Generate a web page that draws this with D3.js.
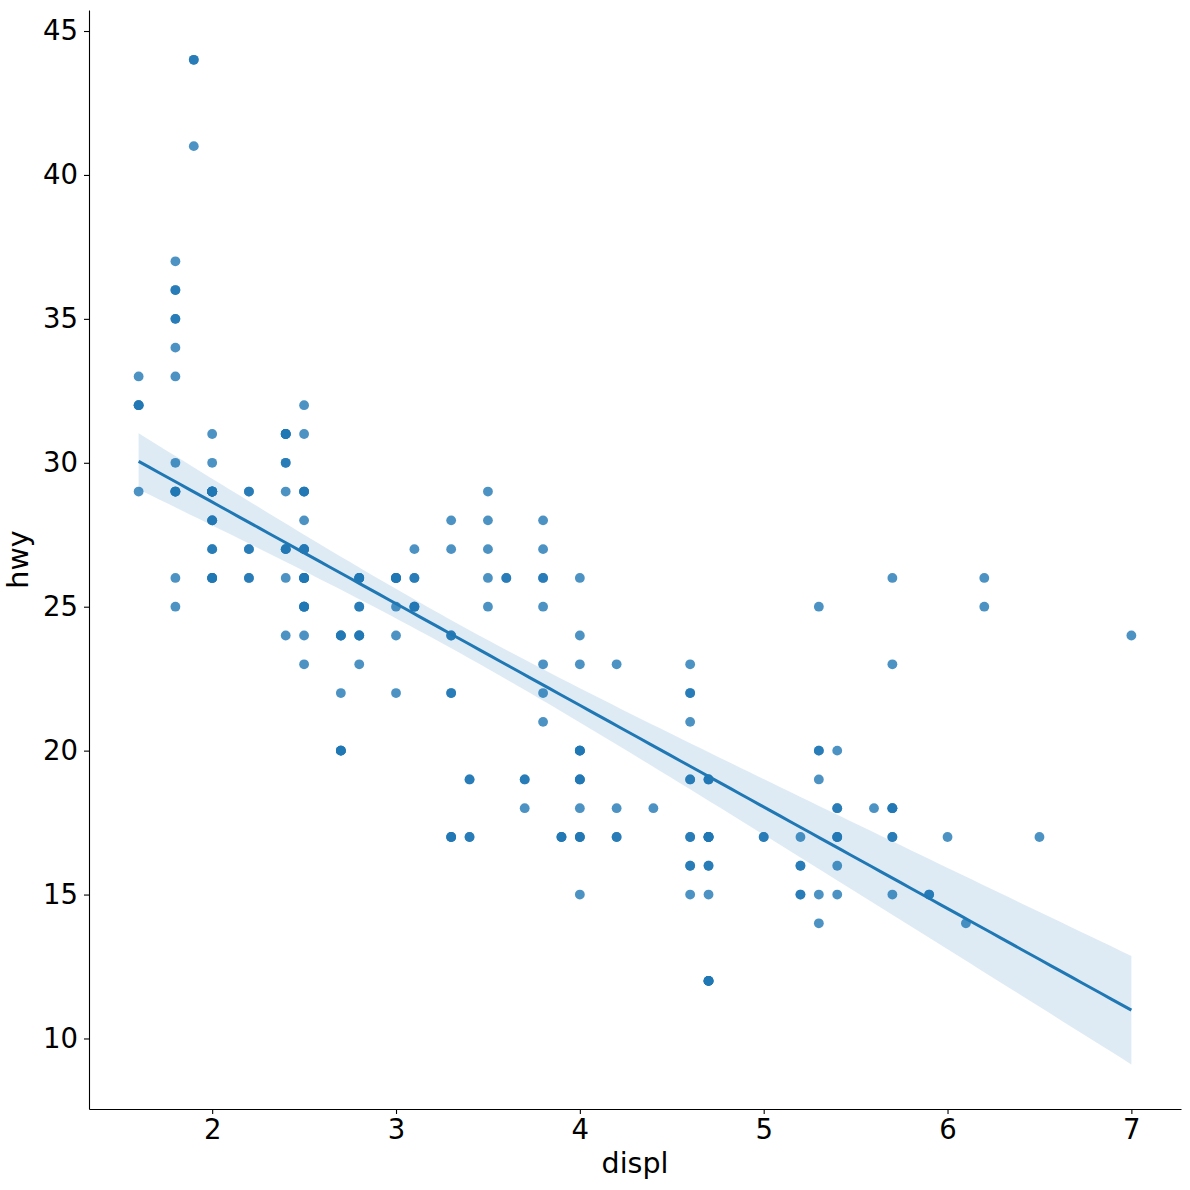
<!DOCTYPE html>
<html>
<head>
<meta charset="utf-8">
<script src="https://cdn.jsdelivr.net/npm/d3@7"></script>
<style>
  body { margin: 0; background: #fff; }
  text { font-family: "DejaVu Sans", sans-serif; fill: #000; }
</style>
</head>
<body>
<div id="output"></div>
<script>
// engine displacement (litres), one entry per car
const displ = [
  1.8, 1.8, 2.0, 2.0, 2.8, 2.8, 3.1,                 // audi a4
  1.8, 1.8, 2.0, 2.0, 2.8, 2.8, 3.1, 3.1,            // a4 quattro
  2.8, 3.1, 4.2,                                     // a6 quattro
  5.3, 5.3, 5.3, 5.7, 6.0,                           // c1500 suburban
  5.7, 5.7, 6.2, 6.2, 7.0,                           // corvette
  5.3, 5.3, 5.7, 6.5,                                // k1500 tahoe
  2.4, 2.4, 3.1, 3.5, 3.6,                           // malibu
  2.4, 3.0, 3.3, 3.3, 3.3, 3.3, 3.3, 3.8, 3.8, 3.8, 4.0, // caravan
  3.7, 3.7, 3.9, 3.9, 4.7, 4.7, 4.7, 5.2, 5.2,       // dakota
  3.9, 4.7, 4.7, 4.7, 5.2, 5.7, 5.9,                 // durango
  4.7, 4.7, 4.7, 4.7, 4.7, 4.7, 5.2, 5.2, 5.7, 5.9,  // ram 1500
  4.6, 5.4, 5.4,                                     // expedition
  4.0, 4.0, 4.0, 4.0, 4.6, 5.0,                      // explorer
  4.2, 4.2, 4.6, 4.6, 4.6, 5.4, 5.4,                 // f150
  3.8, 3.8, 4.0, 4.0, 4.6, 4.6, 4.6, 4.6, 5.4,       // mustang
  1.6, 1.6, 1.6, 1.6, 1.6, 1.8, 1.8, 1.8, 2.0,       // civic
  2.4, 2.4, 2.4, 2.4, 2.5, 2.5, 3.3,                 // sonata
  2.0, 2.0, 2.0, 2.0, 2.7, 2.7, 2.7,                 // tiburon
  3.0, 3.7, 4.0, 4.7, 4.7, 4.7, 5.7, 6.1,            // grand cherokee
  4.0, 4.2, 4.4, 4.6,                                // range rover
  5.4, 5.4, 5.4,                                     // navigator
  4.0, 4.0, 4.6, 5.0,                                // mountaineer
  2.4, 2.4, 2.5, 2.5, 3.5, 3.5,                      // altima
  3.0, 3.0, 3.5,                                     // maxima
  3.3, 3.3, 4.0, 5.6,                                // pathfinder
  3.1, 3.8, 3.8, 3.8, 5.3,                           // grand prix
  2.5, 2.5, 2.5, 2.5, 2.5, 2.5,                      // forester
  2.2, 2.2, 2.5, 2.5, 2.5, 2.5, 2.5, 2.5,            // impreza
  2.7, 2.7, 3.4, 3.4, 4.0, 4.7,                      // 4runner
  2.2, 2.2, 2.4, 2.4, 3.0, 3.0, 3.5,                 // camry
  2.2, 2.2, 2.4, 2.4, 3.0, 3.0, 3.3,                 // camry solara
  1.8, 1.8, 1.8, 1.8, 1.8,                           // corolla
  4.7, 5.7,                                          // land cruiser
  2.7, 2.7, 2.7, 3.4, 3.4, 4.0, 4.0,                 // tacoma
  2.0, 2.0, 2.0, 2.0, 2.8,                           // gti
  1.9, 2.0, 2.0, 2.0, 2.0, 2.5, 2.5, 2.8, 2.8,       // jetta
  1.9, 1.9, 2.0, 2.0, 2.5, 2.5,                      // new beetle
  1.8, 1.8, 2.0, 2.0, 2.8, 2.8, 3.6                  // passat
];

// highway miles per gallon, same order
const hwy = [
  29, 29, 31, 30, 26, 26, 27,
  26, 25, 28, 27, 25, 25, 25, 25,
  24, 25, 23,
  20, 15, 20, 17, 17,
  26, 23, 26, 25, 24,
  19, 14, 15, 17,
  27, 30, 26, 29, 26,
  24, 24, 22, 22, 24, 24, 17, 22, 21, 23, 23,
  19, 18, 17, 17, 19, 19, 12, 17, 15,
  17, 17, 12, 17, 16, 18, 15,
  16, 12, 17, 17, 16, 12, 15, 16, 17, 15,
  17, 17, 18,
  17, 19, 17, 19, 19, 17,
  17, 17, 16, 16, 17, 15, 17,
  26, 25, 26, 24, 21, 22, 23, 22, 20,
  33, 32, 32, 29, 32, 34, 36, 36, 29,
  26, 27, 30, 31, 26, 26, 28,
  26, 29, 28, 27, 24, 24, 24,
  22, 19, 20, 17, 12, 19, 18, 14,
  15, 18, 18, 15,
  17, 16, 18,
  17, 19, 19, 17,
  29, 27, 31, 32, 27, 26,
  26, 25, 25,
  17, 17, 20, 18,
  26, 26, 27, 28, 25,
  25, 24, 27, 25, 26, 23,
  26, 26, 26, 26, 25, 27, 25, 27,
  20, 20, 19, 17, 20, 17,
  29, 27, 31, 31, 26, 26, 28,
  27, 29, 31, 31, 26, 26, 27,
  30, 33, 35, 37, 35,
  15, 18,
  20, 20, 22, 17, 19, 18, 20,
  29, 26, 29, 29, 24,
  44, 29, 26, 29, 29, 29, 29, 23, 24,
  44, 41, 29, 26, 28, 29,
  29, 29, 28, 29, 26, 26, 26
];

const xTicks = [2, 3, 4, 5, 6, 7];
const yTicks = [10, 15, 20, 25, 30, 35, 40, 45];

const W = 1190, H = 1190;
const margin = { top: 10, right: 9, bottom: 81, left: 89 };
const blue = "#1f77b4";

const pts = displ.map((d, i) => ({ x: d, y: hwy[i] }));

// ordinary least squares fit
const n = pts.length;
const xbar = d3.mean(pts, d => d.x);
const ybar = d3.mean(pts, d => d.y);
const sxx = d3.sum(pts, d => (d.x - xbar) ** 2);
const slope = d3.sum(pts, d => (d.x - xbar) * (d.y - ybar)) / sxx;
const icpt = ybar - slope * xbar;

// 95% band from heteroskedasticity-robust (HC3) variance of the fitted mean
const resid = pts.map(d => {
  const e = d.y - icpt - slope * d.x;
  const h = 1 / n + (d.x - xbar) ** 2 / sxx;
  return { x: d.x, v: (e / (1 - h)) ** 2 };
});
const xMin = d3.min(displ), xMax = d3.max(displ);
const grid = d3.range(100).map(i => xMin + (xMax - xMin) * i / 99);
const fit = grid.map(x0 => {
  const v = d3.sum(resid, r => (1 / n + (x0 - xbar) * (r.x - xbar) / sxx) ** 2 * r.v);
  const yhat = icpt + slope * x0;
  const hw = 1.96 * Math.sqrt(v);
  return { x: x0, y: yhat, lo: yhat - hw, hi: yhat + hw };
});

const svg = d3.select("#output").append("svg")
  .attr("width", W)
  .attr("height", H);

const x = d3.scaleLinear()
  .domain([1.33, 7.27])
  .range([margin.left, W - margin.right]);

const y = d3.scaleLinear()
  .domain([7.55, 45.73])
  .range([H - margin.bottom, margin.top]);

// Points
svg.append("g")
  .selectAll("circle")
  .data(pts)
  .enter().append("circle")
  .attr("cx", d => x(d.x))
  .attr("cy", d => y(d.y))
  .attr("r", 4.9)
  .attr("fill", blue)
  .attr("fill-opacity", 0.8);

// Confidence band
svg.append("path")
  .datum(fit)
  .attr("fill", blue)
  .attr("fill-opacity", 0.15)
  .attr("d", d3.area().x(d => x(d.x)).y0(d => y(d.lo)).y1(d => y(d.hi)));

// Regression line
svg.append("path")
  .datum(fit)
  .attr("fill", "none")
  .attr("stroke", blue)
  .attr("stroke-width", 3)
  .attr("d", d3.line().x(d => x(d.x)).y(d => y(d.y)));

// Axes
const xAxis = svg.append("g")
  .attr("transform", `translate(0,${H - margin.bottom})`)
  .call(d3.axisBottom(x).tickValues(xTicks).tickFormat(d3.format("d")).tickSize(5).tickPadding(5).tickSizeOuter(0));

const yAxis = svg.append("g")
  .attr("transform", `translate(${margin.left},0)`)
  .call(d3.axisLeft(y).tickValues(yTicks).tickFormat(d3.format("d")).tickSize(5).tickPadding(6).tickSizeOuter(0));

[xAxis, yAxis].forEach(g => {
  g.select(".domain").attr("stroke", "#000").attr("stroke-width", 1.1);
  g.selectAll(".tick line").attr("stroke", "#000").attr("stroke-width", 1.1);
  g.selectAll(".tick text")
    .style("font-family", "'DejaVu Sans', sans-serif")
    .style("font-size", "27.5px")
    .attr("fill", "#000");
});

// Axis labels
svg.append("text")
  .attr("x", (margin.left + W - margin.right) / 2)
  .attr("y", 1173)
  .attr("text-anchor", "middle")
  .style("font-size", "28.5px")
  .text("displ");

svg.append("text")
  .attr("transform", `translate(28,${(margin.top + H - margin.bottom) / 2}) rotate(-90)`)
  .attr("text-anchor", "middle")
  .style("font-size", "28.5px")
  .text("hwy");
</script>
</body>
</html>
